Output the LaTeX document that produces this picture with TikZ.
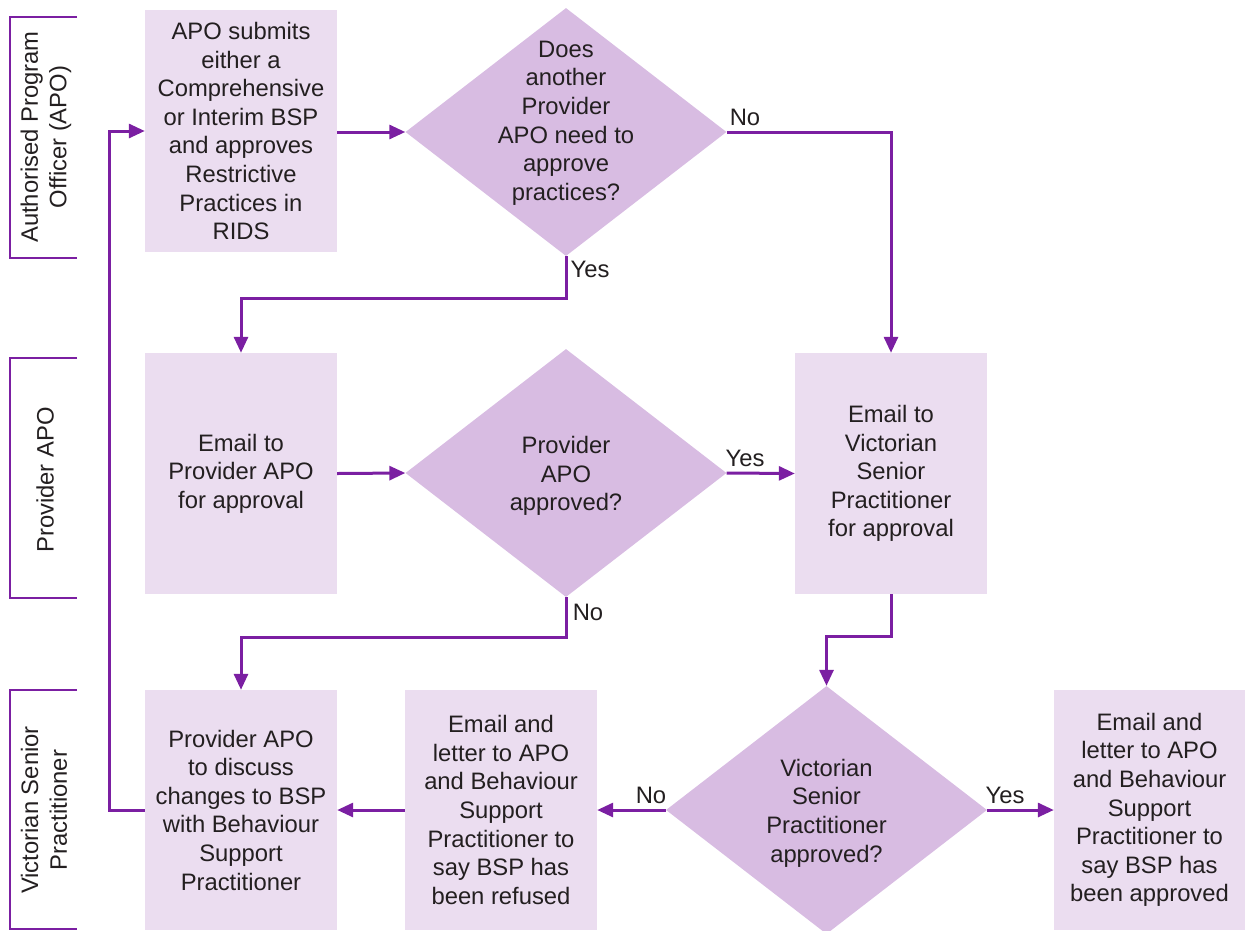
\documentclass[tikz,border=0pt]{standalone}
\usepackage{fontspec}
\setmainfont{Liberation Sans}
\usetikzlibrary{shapes.geometric,arrows.meta}
\definecolor{lineP}{HTML}{7B1FA2}
\definecolor{boxP}{HTML}{EBDDF0}
\definecolor{diaP}{HTML}{D8BCE2}
\definecolor{txtC}{HTML}{231F20}
\begin{document}
\begin{tikzpicture}[x=1pt,y=-1pt,
  font=\fontsize{23.8}{28.6}\selectfont, text=txtC,
  procbox/.style={rectangle, fill=boxP, minimum width=192pt, minimum height=241pt, inner sep=0pt, align=center},
  decbox/.style={diamond, fill=diaP, minimum width=321pt, minimum height=248pt, inner sep=0pt},
  dectext/.style={align=center, inner sep=0pt},
  flow/.style={draw=lineP, line width=3pt, -{Triangle[length=16pt,width=14pt]}},
  lanebr/.style={draw=lineP, line width=2.5pt},
  lbl/.style={inner sep=0pt}]
\useasboundingbox (0,0) rectangle (1245,930);
\clip (0,0) rectangle (1245,930);

% lane brackets
\draw[lanebr] (77,17) -- (10,17) -- (10,258) -- (77,258);
\draw[lanebr] (77,358) -- (10,358) -- (10,598) -- (77,598);
\draw[lanebr] (77,690) -- (10,690) -- (10,929) -- (77,929);
\node[rotate=90, align=center, inner sep=0pt] (lane1) at (46,137) {Authorised Program\\Officer (APO)};
\node[rotate=90, align=center, inner sep=0pt] (lane2) at (45,480) {Provider APO};
\node[rotate=90, align=center, inner sep=0pt] (lane3) at (44,810) {Victorian Senior\\Practitioner};

% process boxes
\node[procbox, minimum height=242pt] (b1) at (241,131) {APO submits\\either a\\Comprehensive\\or Interim BSP\\and approves\\Restrictive\\Practices in\\RIDS};
\node[procbox] (b2) at (241,473.5) {Email to\\Provider APO\\for approval};
\node[procbox] (b3) at (891,473.5) {Email to\\Victorian\\Senior\\Practitioner\\for approval};
\node[procbox, minimum height=240pt] (b4) at (241,810) {Provider APO\\to discuss\\changes to BSP\\with Behaviour\\Support\\Practitioner};
\node[procbox, minimum height=240pt] (b5) at (501,810) {Email and\\letter to APO\\and Behaviour\\Support\\Practitioner to\\say BSP has\\been refused};
\node[procbox, minimum height=240pt, minimum width=191pt] (b6) at (1149.5,810) {Email and\\letter to APO\\and Behaviour\\Support\\Practitioner to\\say BSP has\\been approved};

% decisions
\node[decbox] (d1) at (566,132) {};
\node[dectext] (t1) at (566,123) {Does\\another\\Provider\\APO need to\\approve\\practices?};
\node[decbox] (d2) at (566,473) {};
\node[dectext] (t2) at (566,476) {Provider\\APO\\approved?};
\node[decbox] (d3) at (826.5,810) {};
\node[dectext] (t3) at (826.5,813) {Victorian\\Senior\\Practitioner\\approved?};

% connectors
\draw[flow] (b1.east |- d1.west) -- (d1.west);
\draw[flow] (d1.east) -| (b3.north);
\draw[flow] (d1.south) -- ++(0,42) -| (b2.north);
\draw[flow] (b2.east) -- (d2.west);
\draw[flow] (d2.east) -- (b3.west);
\draw[flow] (d2.south) -- ++(0,40) -| (b4.north);
\draw[flow] (b3.south) -- ++(0,42) -| (d3.north);
\draw[flow] (d3.west) -- (b5.east);
\draw[flow] (d3.east) -- (b6.west);
\draw[flow] (b5.west) -- (b4.east);
\draw[flow] (b4.west) -- ++(-35,0) |- (b1.west);

% labels
\node[lbl] (l1) at (745,117) {No};
\node[lbl] (l2) at (590,269) {Yes};
\node[lbl] (l3) at (745,458) {Yes};
\node[lbl] (l4) at (588,612) {No};
\node[lbl] (l5) at (651,795) {No};
\node[lbl] (l6) at (1005,795) {Yes};
\end{tikzpicture}
\end{document}
